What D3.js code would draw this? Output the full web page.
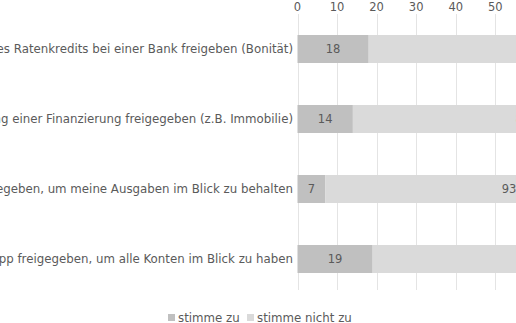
<!DOCTYPE html>
<html><head><meta charset="utf-8">
<script src="https://cdn.jsdelivr.net/npm/d3@7"></script>
<style>body{margin:0;background:#fff;overflow:hidden}svg{display:block;font-family:"DejaVu Sans",Verdana,sans-serif}</style>
</head><body>
<svg id="c" width="516" height="323"></svg>
<script>
const categories = [
  "Zur Prüfung eines Ratenkredits bei einer Bank freigeben (Bonität)",
  "Zur Prüfung einer Finanzierung freigegeben (z.B. Immobilie)",
  "Für eine Finanz-App freigegeben, um meine Ausgaben im Blick zu behalten",
  "Für eine Multibanking-App freigegeben, um alle Konten im Blick zu haben"
];
const agree = [18, 14, 7, 19];
const disagree = [82, 86, 93, 81];
const seriesNames = ["stimme zu", "stimme nicht zu"];
const seriesColors = ["#c0c0c0", "#dadada"];
const tickValues = [0, 10, 20, 30, 40, 50, 60, 70, 80, 90, 100];

const svg = d3.select("#c");
const x = d3.scaleLinear().domain([0, 100]).range([297.5, 693]);
const y = d3.scaleBand().domain(categories).range([14, 294]).paddingInner(0.6).paddingOuter(0.3);
const textColor = "#5a5a5a";
const fs = 11.8;

// gridlines
svg.append("g").selectAll("line").data(tickValues).join("line")
  .attr("x1", d => Math.round(x(d)) + 0.5).attr("x2", d => Math.round(x(d)) + 0.5)
  .attr("y1", 14).attr("y2", 290)
  .attr("stroke", "#e4e4e4").attr("stroke-width", 1);

// top axis labels
svg.append("g").selectAll("text").data(tickValues).join("text")
  .attr("x", d => x(d)).attr("y", 10.5)
  .attr("text-anchor", "middle").attr("font-size", 11.5).attr("fill", textColor)
  .text(d => d);

const rows = categories.map((c, i) => ({c, a: agree[i], d: disagree[i]}));
const g = svg.append("g");
g.selectAll("rect.a").data(rows).join("rect").attr("class", "a")
  .attr("x", x(0)).attr("y", d => y(d.c)).attr("width", d => x(d.a) - x(0)).attr("height", y.bandwidth())
  .attr("fill", seriesColors[0]);
g.selectAll("rect.d").data(rows).join("rect").attr("class", "d")
  .attr("x", d => x(d.a)).attr("y", d => y(d.c)).attr("width", d => x(d.a + d.d) - x(d.a)).attr("height", y.bandwidth())
  .attr("fill", seriesColors[1]);
g.selectAll("text.va").data(rows).join("text").attr("class", "va")
  .attr("x", d => (x(0) + x(d.a)) / 2).attr("y", d => y(d.c) + y.bandwidth() / 2)
  .attr("dy", "0.35em").attr("text-anchor", "middle").attr("font-size", 11.5).attr("fill", textColor)
  .text(d => d.a);
g.selectAll("text.vd").data(rows).join("text").attr("class", "vd")
  .attr("x", d => (x(d.a) + x(d.a + d.d)) / 2).attr("y", d => y(d.c) + y.bandwidth() / 2)
  .attr("dy", "0.35em").attr("text-anchor", "middle").attr("font-size", 11.5).attr("fill", textColor)
  .text(d => d.d);

// category labels
g.selectAll("text.cat").data(categories).join("text").attr("class", "cat")
  .attr("x", 293).attr("y", d => y(d) + y.bandwidth() / 2)
  .attr("dy", "0.35em").attr("text-anchor", "end").attr("font-size", fs).attr("fill", textColor)
  .text(d => d);

// legend
const legendX = [168, 247];
const lg = svg.append("g");
seriesNames.forEach((n, i) => {
  lg.append("rect").attr("x", legendX[i]).attr("y", 314).attr("width", 7).attr("height", 7).attr("fill", seriesColors[i]);
  lg.append("text").attr("x", legendX[i] + 10).attr("y", 318).attr("dy", "0.35em")
    .attr("font-size", fs).attr("fill", textColor).text(n);
});
</script>
</body></html>
